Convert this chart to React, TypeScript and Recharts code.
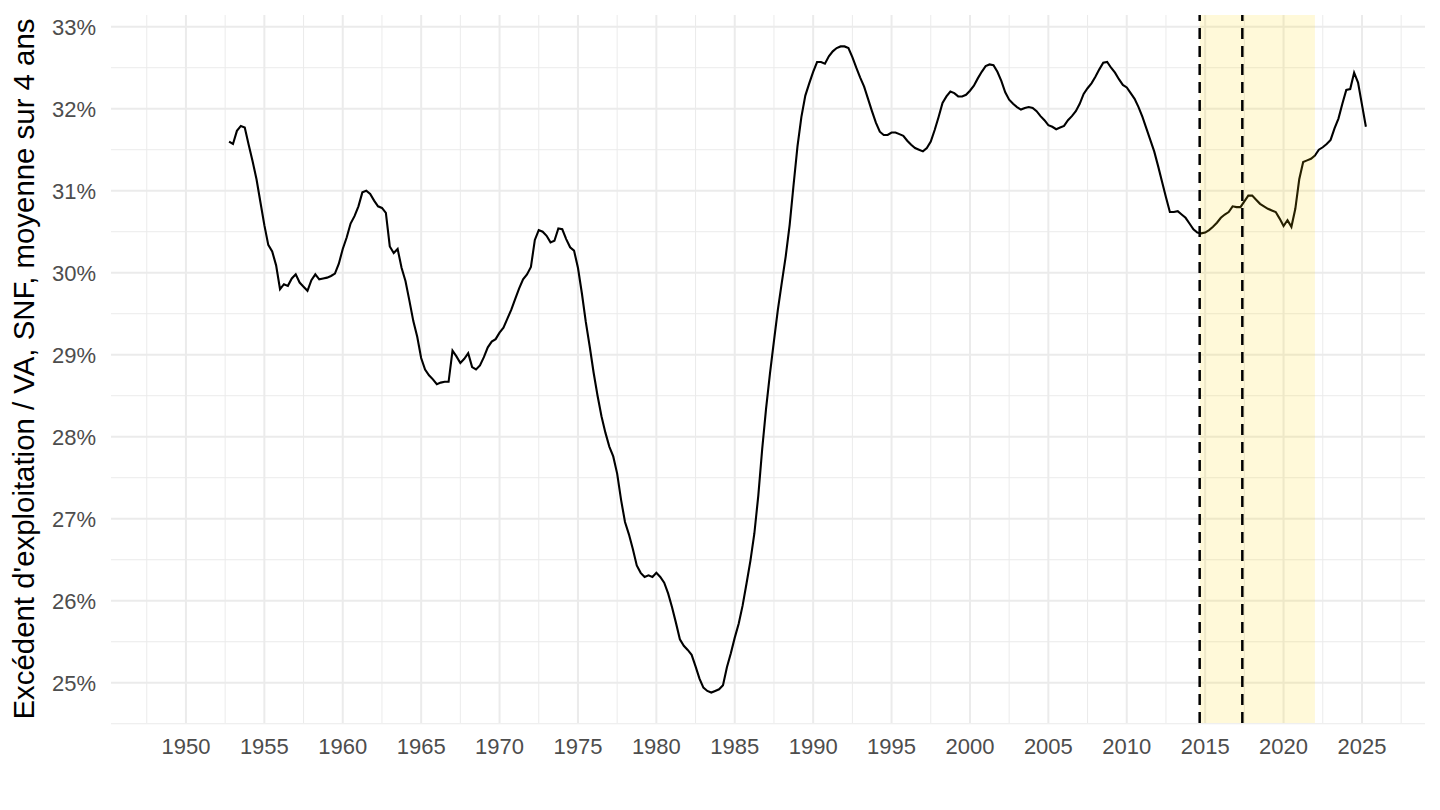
import {
  CartesianGrid,
  ComposedChart,
  Label,
  Line,
  ReferenceArea,
  ReferenceLine,
  XAxis,
  YAxis,
} from 'recharts';

// quarterly series, first point is 1952 Q4
const firstQuarter = 1952.75;

// EBE / VA des SNF, moyenne sur 4 ans (%)
const ebeRatio = [
  31.6,
  31.57, 31.73, 31.79, 31.77, // 1953
  31.56, 31.36, 31.14, 30.86, // 1954
  30.58, 30.34, 30.26, 30.09, // 1955
  29.8, 29.86, 29.84, 29.93, // 1956
  29.98, 29.88, 29.83, 29.78, // 1957
  29.91, 29.98, 29.92, 29.93, // 1958
  29.94, 29.96, 29.99, 30.11, // 1959
  30.29, 30.43, 30.6, 30.69, // 1960
  30.81, 30.98, 31.0, 30.96, // 1961
  30.88, 30.81, 30.79, 30.73, // 1962
  30.32, 30.24, 30.29, 30.06, // 1963
  29.9, 29.66, 29.41, 29.22, // 1964
  28.96, 28.82, 28.75, 28.7, // 1965
  28.64, 28.66, 28.67, 28.67, // 1966
  29.05, 28.98, 28.9, 28.95, // 1967
  29.02, 28.85, 28.82, 28.87, // 1968
  28.97, 29.09, 29.16, 29.19, // 1969
  29.27, 29.33, 29.44, 29.55, // 1970
  29.68, 29.81, 29.92, 29.98, // 1971
  30.07, 30.4, 30.52, 30.5, // 1972
  30.45, 30.37, 30.39, 30.54, // 1973
  30.53, 30.41, 30.31, 30.27, // 1974
  30.06, 29.75, 29.4, 29.1, // 1975
  28.78, 28.5, 28.25, 28.05, // 1976
  27.88, 27.76, 27.55, 27.23, // 1977
  26.96, 26.81, 26.63, 26.43, // 1978
  26.34, 26.29, 26.31, 26.29, // 1979
  26.34, 26.29, 26.22, 26.09, // 1980
  25.92, 25.73, 25.53, 25.45, // 1981
  25.4, 25.34, 25.2, 25.05, // 1982
  24.94, 24.9, 24.88, 24.9, // 1983
  24.92, 24.97, 25.19, 25.36, // 1984
  25.55, 25.72, 25.94, 26.21, // 1985
  26.49, 26.82, 27.28, 27.85, // 1986
  28.35, 28.78, 29.17, 29.55, // 1987
  29.88, 30.2, 30.58, 31.07, // 1988
  31.54, 31.9, 32.16, 32.31, // 1989
  32.45, 32.57, 32.57, 32.55, // 1990
  32.64, 32.7, 32.74, 32.76, // 1991
  32.76, 32.74, 32.63, 32.5, // 1992
  32.38, 32.27, 32.12, 31.97, // 1993
  31.83, 31.72, 31.68, 31.68, // 1994
  31.71, 31.71, 31.69, 31.67, // 1995
  31.61, 31.56, 31.52, 31.5, // 1996
  31.48, 31.52, 31.6, 31.74, // 1997
  31.9, 32.07, 32.15, 32.21, // 1998
  32.19, 32.15, 32.15, 32.17, // 1999
  32.22, 32.28, 32.37, 32.45, // 2000
  32.52, 32.54, 32.53, 32.45, // 2001
  32.34, 32.2, 32.11, 32.06, // 2002
  32.02, 31.99, 32.01, 32.02, // 2003
  32.01, 31.97, 31.91, 31.86, // 2004
  31.8, 31.78, 31.75, 31.77, // 2005
  31.79, 31.86, 31.91, 31.97, // 2006
  32.06, 32.18, 32.25, 32.31, // 2007
  32.39, 32.48, 32.56, 32.57, // 2008
  32.5, 32.44, 32.36, 32.29, // 2009
  32.26, 32.19, 32.12, 32.02, // 2010
  31.9, 31.76, 31.62, 31.48, // 2011
  31.3, 31.11, 30.92, 30.74, // 2012
  30.74, 30.75, 30.71, 30.67, // 2013
  30.6, 30.53, 30.49, 30.48, // 2014
  30.49, 30.52, 30.56, 30.61, // 2015
  30.67, 30.71, 30.74, 30.81, // 2016
  30.8, 30.8, 30.87, 30.94, // 2017
  30.94, 30.89, 30.84, 30.81, // 2018
  30.78, 30.76, 30.74, 30.66, // 2019
  30.57, 30.64, 30.56, 30.78, // 2020
  31.14, 31.35, 31.37, 31.39, // 2021
  31.43, 31.5, 31.53, 31.57, // 2022
  31.62, 31.76, 31.88, 32.06, // 2023
  32.23, 32.24, 32.44, 32.32, // 2024
  32.05, 31.78, // 2025
];

const yearTicks = [
  1950, 1955, 1960, 1965, 1970, 1975, 1980, 1985, 1990, 1995, 2000, 2005, 2010,
  2015, 2020, 2025,
];
const minorYears = [
  1947.5, 1952.5, 1957.5, 1962.5, 1967.5, 1972.5, 1977.5, 1982.5, 1987.5, 1992.5,
  1997.5, 2002.5, 2007.5, 2012.5, 2017.5, 2022.5, 2027.5,
];
const pctTicks = [25, 26, 27, 28, 29, 30, 31, 32, 33];
const minorPct = [24.5, 25.5, 26.5, 27.5, 28.5, 29.5, 30.5, 31.5, 32.5];

const markerDates = [2014.65, 2017.37];
const shadedStart = 2014.65;
const shadedEnd = 2022.0;

const data = ebeRatio.map((value, i) => ({ date: firstQuarter + i * 0.25, value }));

const tickStyle = { fill: '#4d4d4d', fontSize: 22 };

export default function App() {
  return (
    <div
      style={{
        position: 'absolute',
        left: 0,
        top: 0,
        width: 1440,
        height: 810,
        background: '#fff',
        fontFamily: '"Liberation Sans", Arial, sans-serif',
      }}
    >
      <ComposedChart
        width={1440}
        height={810}
        data={data}
        margin={{ top: 15, right: 15, bottom: 47, left: 0 }}
      >
        <CartesianGrid
          stroke="#ebebeb"
          strokeWidth={1}
          horizontalValues={minorPct}
          verticalValues={minorYears}
        />
        <CartesianGrid
          stroke="#ebebeb"
          strokeWidth={2}
          horizontalValues={pctTicks}
          verticalValues={yearTicks}
        />
        <XAxis
          dataKey="date"
          type="number"
          domain={[1945.22, 2029.02]}
          ticks={yearTicks}
          allowDataOverflow
          height={40}
          axisLine={false}
          tickLine={false}
          tickSize={0}
          tickMargin={15}
          tick={tickStyle}
        />
        <YAxis
          type="number"
          domain={[24.509, 33.143]}
          ticks={pctTicks}
          allowDataOverflow
          width={111}
          axisLine={false}
          tickLine={false}
          tickSize={0}
          tickMargin={15}
          tick={tickStyle}
          tickFormatter={(v: number) => `${v}%`}
        >
          <Label
            value="Excédent d'exploitation / VA, SNF, moyenne sur 4 ans"
            angle={-90}
            position="insideLeft"
            offset={24}
            style={{ textAnchor: 'middle', fontSize: 29.4, fill: '#000' }}
          />
        </YAxis>
        <Line
          dataKey="value"
          type="linear"
          stroke="#000"
          strokeWidth={2.1}
          dot={false}
          activeDot={false}
          isAnimationActive={false}
        />
        <ReferenceArea
          x1={shadedStart}
          x2={shadedEnd}
          fill="#ffd700"
          fillOpacity={0.15}
          stroke="none"
          zIndex={1000}
        />
        {markerDates.map((d) => (
          <ReferenceLine
            key={d}
            x={d}
            stroke="#000"
            strokeWidth={2.5}
            strokeDasharray="11 7"
            zIndex={1100}
          />
        ))}
      </ComposedChart>
    </div>
  );
}
